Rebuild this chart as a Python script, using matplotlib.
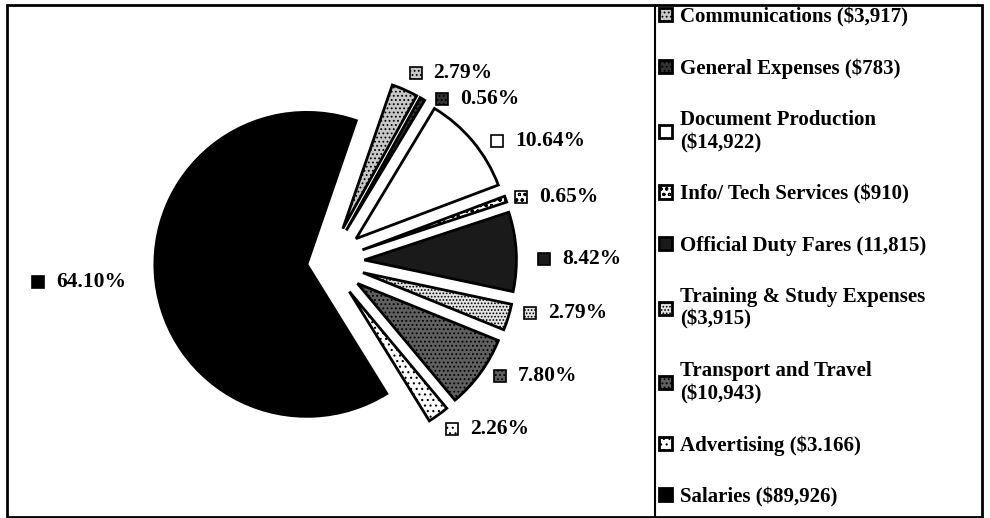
import numpy as np
import matplotlib.pyplot as plt
from matplotlib.patches import Rectangle
from matplotlib.lines import Line2D

# Expense amounts in dollars, clockwise from the top of the pie
categories = ["Communications", "General Expenses", "Document Production",
              "Info/ Tech Services", "Official Duty Fares",
              "Training & Study Expenses", "Transport and Travel",
              "Advertising", "Salaries"]
amounts = [3917, 783, 14922, 910, 11815, 3915, 10943, 3166, 89926]
legend_labels = ["Communications (\\$3,917)", "General Expenses (\\$783)",
                 "Document Production\n(\\$14,922)", "Info/ Tech Services (\\$910)",
                 "Official Duty Fares (11,815)", "Training & Study Expenses\n(\\$3,915)",
                 "Transport and Travel\n(\\$10,943)", "Advertising (\\$3.166)",
                 "Salaries (\\$89,926)"]

# fill styles (halftone look)
faces = ["#c8c8c8", "#333333", "white", "white", "#1a1a1a", "#e4e4e4", "#606060", "white", "black"]
hatches = ["....", "....", None, "ooo", None, ".....", "....", "...", None]
explode = [0.24, 0.24, 0.24, 0.24, 0.24, 0.24, 0.24, 0.24, 0.14]
# label placement: distance (in radii) and angle tweak (deg) from each wedge's mid angle
label_dist = [1.13, 1.07, 1.13, 1.10, 1.18, 1.13, 1.12, 1.13, 1.77]
label_turn = [-1, -6, -5, -1, -2.8, 3.4, 3, 1, -2.7]

plt.rcParams['hatch.linewidth'] = 0.8
pct_font = dict(family=["Liberation Serif", "DejaVu Serif"], weight="bold", size=15.5)
leg_font = dict(family=["Liberation Serif", "DejaVu Serif"], weight="bold", size=15)

W, H = 990, 518
fig = plt.figure(figsize=(W / 100, H / 100), dpi=100)
ax = fig.add_axes([0, 0, 1, 1])

px = 152.0          # pixels per unit radius
cx, cy = 328, 256   # pie centre in pixels (from bottom-left)

wedges, _ = ax.pie(amounts, explode=explode, startangle=71, counterclock=False,
                   colors=faces, wedgeprops=dict(edgecolor="black", linewidth=2))
for w, h in zip(wedges, hatches):
    if h:
        w.set_hatch(h)

ax.set_xlim(-cx / px, (W - cx) / px)
ax.set_ylim(-cy / px, (H - cy) / px)
ax.set_aspect("auto")
ax.axis("off")

total = sum(amounts)
s = 12 / px
for w, v, d, t, fc, h in zip(wedges, amounts, label_dist, label_turn, faces, hatches):
    mid = np.deg2rad((w.theta1 + w.theta2) / 2 + t)
    x = w.center[0] + d * w.r * np.cos(mid)
    y = w.center[1] + d * w.r * np.sin(mid)
    ax.add_patch(Rectangle((x - s / 2, y - s / 2), s, s, facecolor=fc, hatch=h,
                           edgecolor="black", linewidth=1.2))
    ax.text(x + 18 / px, y, f"{v / total * 100:.2f}%", ha="left", va="center", **pct_font)

# outer frame and legend box divider
fig.add_artist(Rectangle((7 / W, 1 / H), 975 / W, 512 / H, transform=fig.transFigure,
                         fill=False, edgecolor="black", linewidth=2))
fig.add_artist(Line2D([655 / W, 655 / W], [1 / H, 513 / H], transform=fig.transFigure,
                      color="black", linewidth=1.5))

fig.legend(wedges, legend_labels, loc="upper left", bbox_to_anchor=(659 / W, 1 - 7 / H),
           frameon=False, prop=leg_font, handlelength=0.6, handleheight=0.6,
           handletextpad=0.4, labelspacing=1.5, borderpad=0, borderaxespad=0)

fig.savefig("out.png", dpi=100)
